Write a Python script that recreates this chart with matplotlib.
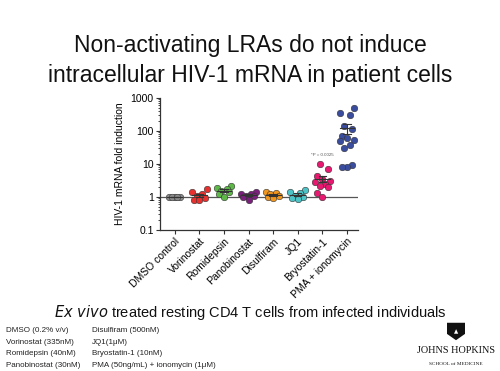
import matplotlib
matplotlib.use('Agg')
import matplotlib.pyplot as plt
import numpy as np
from matplotlib.patches import Polygon

plt.rcParams['font.family'] = ['Liberation Sans', 'DejaVu Sans']

# ─── Data ─────────────────────────────────────────────────────────────────────
categories = ['DMSO control', 'Vorinostat', 'Romidepsin', 'Panobinostat',
              'Disulfiram', 'JQ1', 'Bryostatin-1', 'PMA + ionomycin']
colors = ['#8c8c8c', '#e8312f', '#5db848', '#7a1f7c',
          '#f0961c', '#4cc3c6', '#e8176f', '#3a4c9e']

dmso = [1.0, 1.0, 1.0, 1.0, 1.0]
vorinostat = [1.7, 1.4, 1.2, 1.05, 0.95, 0.8, 0.8]
romidepsin = [2.1, 1.9, 1.7, 1.5, 1.4, 1.2, 1.0]
panobinostat = [1.4, 1.25, 1.2, 1.1, 1.05, 1.0, 0.8]
disulfiram = [1.4, 1.3, 1.2, 1.1, 1.0, 0.9]
jq1 = [1.6, 1.4, 1.3, 1.1, 1.0, 0.9, 0.85]
bryostatin = [10, 7, 4.2, 3.5, 3.0, 2.8, 2.5, 2.2, 2.0, 1.3, 1.0]
pma = [480, 350, 290, 140, 110, 70, 60, 52, 50, 38, 30, 9, 8, 8]
groups = [dmso, vorinostat, romidepsin, panobinostat,
          disulfiram, jq1, bryostatin, pma]

yticks = [0.1, 1, 10, 100, 1000]
ytick_labels = ['0.1', '1', '10', '100', '1000']

legend_left = ['DMSO (0.2% v/v)', 'Vorinostat (335nM)',
               'Romidepsin (40nM)', 'Panobinostat (30nM)']
legend_right = ['Disulfiram (500nM)', 'JQ1(1μM)',
                'Bryostatin-1 (10nM)', 'PMA (50ng/mL) + ionomycin (1μM)']

# ─── Figure ───────────────────────────────────────────────────────────────────
fig = plt.figure(figsize=(5.0, 3.71), dpi=100)
fig.patch.set_facecolor('white')

fig.text(0.5, 0.878, 'Non-activating LRAs do not induce',
         ha='center', va='center', fontsize=16.5, color='#111111')
fig.text(0.5, 0.797, 'intracellular HIV-1 mRNA in patient cells',
         ha='center', va='center', fontsize=16.5, color='#111111')

ax = fig.add_axes([0.32, 0.38, 0.396, 0.357])
ax.set_yscale('log')
ax.set_ylim(0.1, 1000)
ax.set_xlim(-0.6, 7.45)

ax.axhline(1, color='#555555', lw=0.9, zorder=1)

offs_pattern = [0, -0.22, 0.22, -0.11, 0.11, -0.3, 0.3]
for i, (vals, c) in enumerate(zip(groups, colors)):
    v = np.array(vals, dtype=float)
    order = np.argsort(v)
    xs = np.zeros(len(v))
    for k, idx in enumerate(order):
        xs[idx] = i + offs_pattern[k % len(offs_pattern)]
    ax.scatter(xs, v, s=22, color=c, edgecolor='#333333', linewidth=0.4,
               zorder=3)
    m = v.mean()
    se = v.std(ddof=1) / np.sqrt(len(v))
    ax.plot([i - 0.3, i + 0.3], [m, m], color='#333333', lw=0.8, zorder=4)
    ax.plot([i, i], [m - se, m + se], color='#333333', lw=0.8, zorder=4)
    for yy in (m - se, m + se):
        ax.plot([i - 0.15, i + 0.15], [yy, yy], color='#333333', lw=0.8,
                zorder=4)

ax.text(6, 19, '*P = 0.0025', ha='center', va='center', fontsize=3.2,
        color='#555555')

ax.set_yticks(yticks)
ax.set_yticklabels(ytick_labels, fontsize=7.5)
ax.set_xticks(range(len(categories)))
ax.set_xticklabels(categories, rotation=45, ha='right',
                   rotation_mode='anchor', fontsize=7.5)
ax.set_ylabel('HIV-1 mRNA fold induction', fontsize=7.5)
for s in ('top', 'right'):
    ax.spines[s].set_visible(False)
for s in ('left', 'bottom'):
    ax.spines[s].set_color('#333333')
    ax.spines[s].set_linewidth(0.9)
ax.tick_params(axis='both', direction='out', length=3, width=0.8,
               color='#333333', pad=1.5)
ax.tick_params(axis='y', which='minor', length=1.5, width=0.5)

# ─── Subtitle ─────────────────────────────────────────────────────────────────
fig.text(0.5, 0.158,
         r'$\it{Ex\ vivo}$' + ' treated resting CD4 T cells from infected individuals',
         ha='center', va='center', fontsize=10.5, color='#111111')

# ─── Legend text ──────────────────────────────────────────────────────────────
for k, s in enumerate(legend_left):
    fig.text(0.012, 0.108 - k * 0.031, s, ha='left', va='center',
             fontsize=5.8, color='#222222')
for k, s in enumerate(legend_right):
    fig.text(0.183, 0.108 - k * 0.031, s, ha='left', va='center',
             fontsize=5.8, color='#222222')

# ─── Logo ─────────────────────────────────────────────────────────────────────
lx, ly = 0.912, 0.095
shield = Polygon([[lx - 0.018, ly + 0.035], [lx + 0.018, ly + 0.035],
                  [lx + 0.018, ly + 0.005], [lx, ly - 0.012],
                  [lx - 0.018, ly + 0.005]], closed=True,
                 transform=fig.transFigure, facecolor='#111111',
                 edgecolor='none')
fig.patches.append(shield)
fig.text(lx, ly + 0.012, '▲', ha='center', va='center', fontsize=4,
         color='white', family='DejaVu Sans')
fig.text(lx, ly - 0.04, 'JOHNS HOPKINS', ha='center', va='center',
         fontsize=7.4, color='#111111', family='Liberation Serif')
fig.text(lx, ly - 0.075, 'SCHOOL of MEDICINE', ha='center', va='center',
         fontsize=3.8, color='#111111', family='Liberation Serif')

plt.savefig('out.png', dpi=100, facecolor='white')
